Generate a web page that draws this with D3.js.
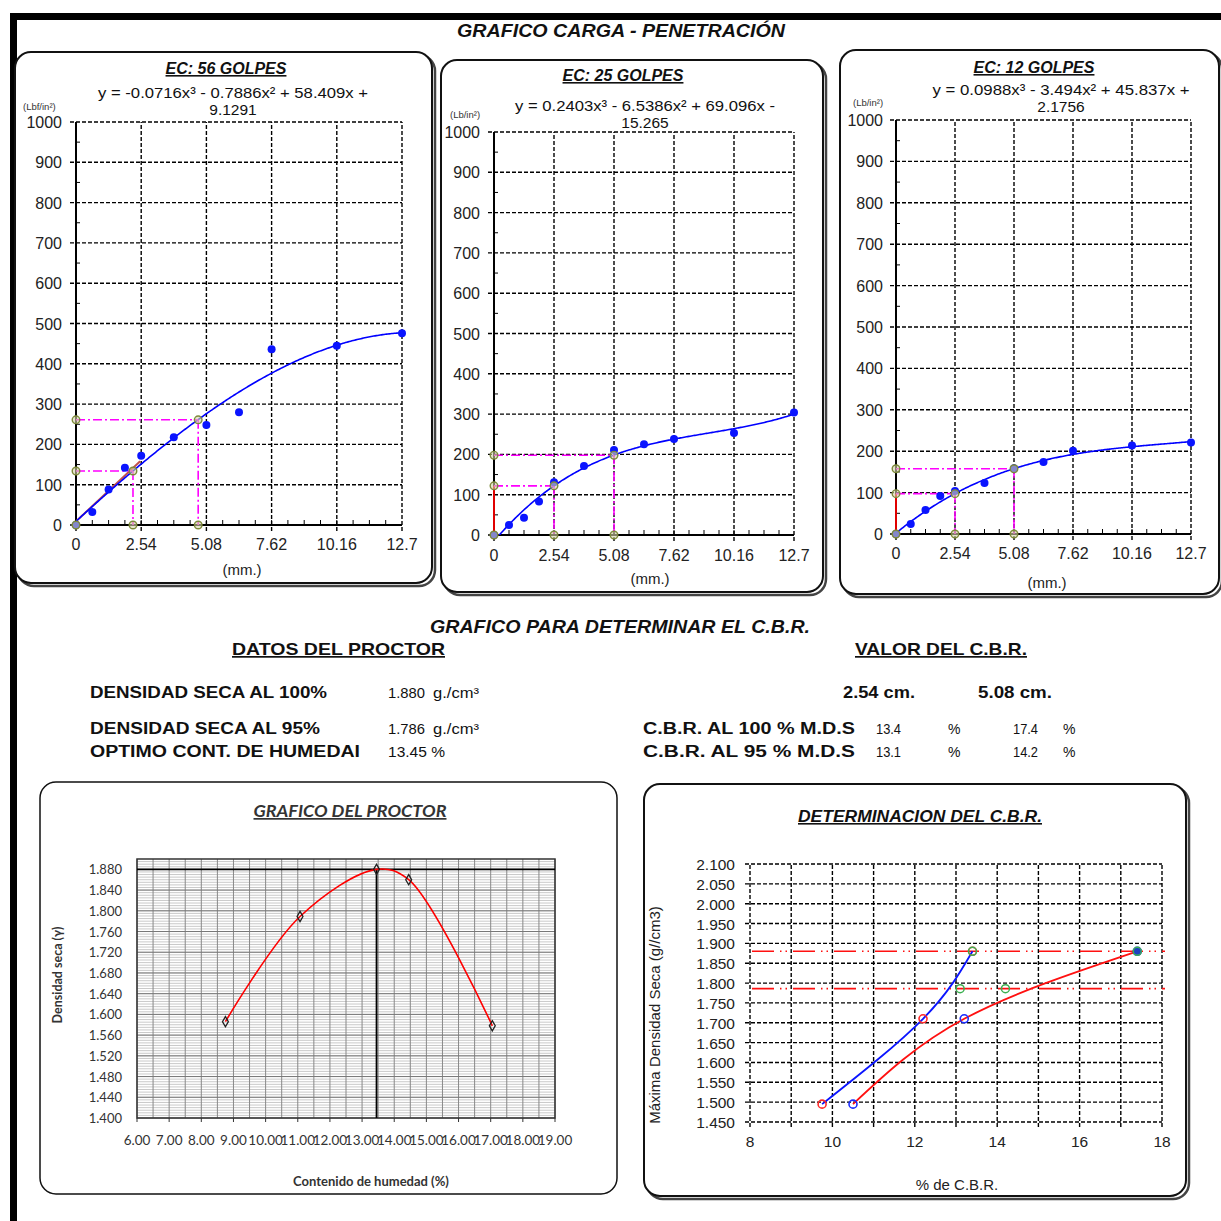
<!DOCTYPE html>
<html><head><meta charset="utf-8">
<script src="https://cdn.jsdelivr.net/npm/d3@7"></script>
<style>body{margin:0;background:#fff}svg{display:block}</style>
</head><body>
<svg id="sheet" width="1221" height="1221"></svg>
<script>
// ---------- Penetration tests (load in lb/in² vs penetration in mm) ----------
const penetration = [0, 0.635, 1.27, 1.905, 2.54, 3.81, 5.08, 6.35, 7.62, 10.16, 12.7];
const load56 = [0, 32, 88, 142, 172, 218, 248, 280, 436, 445, 476];
const load25 = [0, 25, 43, 83, 131, 171, 211, 225, 238, 253, 304];
const load12 = [0, 24, 58, 92, 104, 123, 159, 174, 201, 214, 221];
// cubic trend-line coefficients, constant term first
const fit56 = [9.1291, 58.409, -0.7886, -0.0716];
const fit25 = [-15.265, 69.096, -6.5386, 0.2403];
const fit12 = [2.1756, 45.837, -3.494, 0.0988];
// readings taken off each curve for the CBR
const read56Pen = [2.22, 4.76], read56Load = [134, 261];
const read25Pen = [2.54, 5.08], read25Load = [122, 198];
const read12Pen = [2.54, 5.08], read12Load = [97.5, 157.5];
// initial tangent of the 56-blow curve
const tangent56Pen = [0, 2.5], tangent56Load = [9, 158];
const penTicks = [0, 2.54, 5.08, 7.62, 10.16, 12.7];
const penTickLabels = ["0", "2.54", "5.08", "7.62", "10.16", "12.7"];
const loadTicks = [0, 100, 200, 300, 400, 500, 600, 700, 800, 900, 1000];

// ---------- Proctor ----------
const moisture = [8.75, 11.07, 13.45, 14.45, 17.05];
const dryDensity = [1.586, 1.789, 1.880, 1.860, 1.578];
const optimumMoisture = 13.45;
const maxDryDensity = 1.880;
const dryDensity95 = 1.786;
const moistureTicks = [6, 7, 8, 9, 10, 11, 12, 13, 14, 15, 16, 17, 18, 19];
const densityTicks = [1.40, 1.44, 1.48, 1.52, 1.56, 1.60, 1.64, 1.68, 1.72, 1.76, 1.80, 1.84, 1.88];

// ---------- CBR vs dry density ----------
const cbrDensity = [1.495, 1.71, 1.88];
const cbr254 = [9.75, 12.2, 13.4];
const cbr508 = [10.5, 13.2, 17.4];
const cbrAt95 = [13.1, 14.2];
const cbrTicks = [8, 10, 12, 14, 16, 18];
const cbrDensityTicks = [1.45, 1.50, 1.55, 1.60, 1.65, 1.70, 1.75, 1.80, 1.85, 1.90, 1.95, 2.00, 2.05, 2.10];

const svg = d3.select("#sheet");
const ARIAL = "Liberation Sans, Arial, sans-serif";
const NARROW = "Liberation Sans Narrow, Liberation Sans, Arial, sans-serif";
const CAL = "Lato, Open Sans, sans-serif";
const GRID_DASH = "4,2";

function txt(g, x, y, s, o = {}) {
  const t = g.append("text").attr("x", x).attr("y", y).text(s)
    .attr("font-family", o.ff || ARIAL).attr("font-size", o.fs || 15)
    .attr("fill", o.fill || "#111")
    .attr("text-anchor", o.anchor || "start");
  if (o.bold) t.attr("font-weight", "bold");
  if (o.italic) t.attr("font-style", "italic");
  if (o.underline) t.attr("text-decoration", "underline");
  if (o.len) t.attr("textLength", o.len).attr("lengthAdjust", "spacingAndGlyphs");
  return t;
}

function panel(x, y, w, h, r, heavy) {
  if (heavy) {
    svg.append("rect").attr("x", x + 3).attr("y", y + 3).attr("width", w).attr("height", h)
      .attr("rx", r).attr("fill", "none").attr("stroke", "#444").attr("stroke-width", 2.5);
  }
  svg.append("rect").attr("x", x).attr("y", y).attr("width", w).attr("height", h)
    .attr("rx", r).attr("fill", "#fff").attr("stroke", "#111").attr("stroke-width", heavy ? 2 : 1.5);
}

// sheet frame
svg.append("rect").attr("x", 10).attr("y", 13).attr("width", 1211).attr("height", 7).attr("fill", "#000");
svg.append("rect").attr("x", 10).attr("y", 13).attr("width", 7).attr("height", 1208).attr("fill", "#000");

txt(svg, 621, 37, "GRAFICO CARGA - PENETRACIÓN", {ff: NARROW, fs: 19, bold: true, italic: true, anchor: "middle", len: 328});

// ---------- load-penetration chart ----------
function penChart(c) {
  panel(c.px, c.py, c.pw, c.ph, 16, true);
  const g = svg.append("g");
  const x = d3.scaleLinear().domain([0, 12.7]).range([c.x0, c.x1]);
  const y = d3.scaleLinear().domain([0, 1000]).range([c.y0, c.y1]);
  const clipId = "clip" + c.id;
  g.append("clipPath").attr("id", clipId).append("rect")
    .attr("x", c.x0).attr("y", c.y1).attr("width", c.x1 - c.x0).attr("height", c.y0 - c.y1);

  // dashed grid
  loadTicks.forEach(v => g.append("line").attr("x1", c.x0 - 6).attr("x2", c.x1).attr("y1", y(v)).attr("y2", y(v))
    .attr("stroke", "#000").attr("stroke-width", 1.4).attr("stroke-dasharray", v === 0 ? null : GRID_DASH));
  penTicks.forEach(v => g.append("line").attr("x1", x(v)).attr("x2", x(v)).attr("y1", c.y0 + 6).attr("y2", c.y1)
    .attr("stroke", "#000").attr("stroke-width", 1.4).attr("stroke-dasharray", v === 0 ? null : GRID_DASH));
  // axes
  g.append("line").attr("x1", x(0)).attr("x2", x(0)).attr("y1", c.y0).attr("y2", c.y1).attr("stroke", "#000").attr("stroke-width", 2);
  g.append("line").attr("x1", x(0)).attr("x2", x(12.7)).attr("y1", c.y0).attr("y2", c.y0).attr("stroke", "#000").attr("stroke-width", 2);
  // minor ticks
  d3.range(50, 1000, 100).forEach(v => g.append("line").attr("x1", c.x0).attr("x2", c.x0 + 4)
    .attr("y1", y(v)).attr("y2", y(v)).attr("stroke", "#000"));
  d3.range(1, 20).forEach(i => g.append("line").attr("x1", x(i * 0.635)).attr("x2", x(i * 0.635))
    .attr("y1", c.y0).attr("y2", c.y0 - 5).attr("stroke", "#000"));

  // tick labels
  loadTicks.forEach(v => txt(g, c.ylab, y(v) + 6, String(v), {fs: 16, anchor: "end", fill: "#222"}));
  penTicks.forEach((v, i) => txt(g, x(v), c.xlabY, penTickLabels[i], {fs: 16, anchor: "middle", fill: "#222"}));
  txt(g, c.mmX, c.mmY, "(mm.)", {fs: 15, anchor: "middle", fill: "#222"});
  txt(g, c.unitX, c.unitY, c.unit, {fs: 9.5, fill: "#333"});

  // titles
  txt(g, c.titleX, c.titleY, c.title, {fs: 16, bold: true, italic: true, underline: true, anchor: "middle"});
  txt(g, c.eqX, c.eqY, c.eq[0], {fs: 15.5, anchor: "middle", len: c.eqLen});
  txt(g, c.eqX, c.eqY + 17, c.eq[1], {fs: 15.5, anchor: "middle"});

  const plot = g.append("g").attr("clip-path", `url(#${clipId})`);
  // tangent / seating correction line on the load axis
  if (c.tanPen) {
    plot.append("line").attr("x1", x(c.tanPen[0])).attr("y1", y(c.tanLoad[0]))
      .attr("x2", x(c.tanPen[1])).attr("y2", y(c.tanLoad[1])).attr("stroke", "#c0504d").attr("stroke-width", 2);
  }
  if (c.redAxis) {
    g.append("line").attr("x1", x(0)).attr("x2", x(0)).attr("y1", y(0)).attr("y2", y(c.readLoad[0]))
      .attr("stroke", "#e00000").attr("stroke-width", 2);
  }
  // read-off guides
  c.readPen.forEach((p, i) => {
    const L = c.readLoad[i];
    g.append("line").attr("x1", x(0)).attr("x2", x(p)).attr("y1", y(L)).attr("y2", y(L))
      .attr("stroke", "#ff00ff").attr("stroke-width", 1.6).attr("stroke-dasharray", "9,3,2,3");
    g.append("line").attr("x1", x(p)).attr("x2", x(p)).attr("y1", y(L)).attr("y2", y(0))
      .attr("stroke", "#ff00ff").attr("stroke-width", 1.6).attr("stroke-dasharray", "9,3,2,3");
  });
  // trend line from the displayed coefficients
  const poly = v => c.fit[0] + c.fit[1] * v + c.fit[2] * v * v + c.fit[3] * v * v * v;
  const xs = d3.range(0, 12.7001, 0.05);
  plot.append("path").datum(xs)
    .attr("d", d3.line().x(v => x(v)).y(v => y(poly(v))))
    .attr("fill", "none").attr("stroke", "#0000ff").attr("stroke-width", 1.6);
  // measured points
  g.selectAll(null).data(penetration).join("circle")
    .attr("cx", d => x(d)).attr("cy", (d, i) => y(c.load[i])).attr("r", 4)
    .attr("fill", "#0a14ff");
  // read-off markers
  const marks = [];
  c.readPen.forEach((p, i) => { marks.push([0, c.readLoad[i]], [p, 0], [p, c.readLoad[i]]); });
  marks.push([0, 0]);
  g.selectAll(null).data(marks).join("circle")
    .attr("cx", d => x(d[0])).attr("cy", d => y(d[1])).attr("r", 3.8)
    .attr("fill", "#d6d3a8").attr("fill-opacity", 0.6).attr("stroke", "#7d8a3a").attr("stroke-width", 1.4);
}

penChart({id: 1, px: 15, py: 52, pw: 417, ph: 531, x0: 76, x1: 402, y0: 525, y1: 122,
  ylab: 62, xlabY: 550, mmX: 242, mmY: 575, unit: "(Lbf/in²)", unitX: 23, unitY: 110,
  title: "EC: 56 GOLPES", titleX: 226, titleY: 74,
  eq: ["y = -0.0716x³ - 0.7886x² + 58.409x +", "9.1291"], eqX: 233, eqY: 98, eqLen: 270,
  load: load56, fit: fit56, readPen: read56Pen, readLoad: read56Load,
  tanPen: tangent56Pen, tanLoad: tangent56Load, redAxis: false});

penChart({id: 2, px: 441, py: 60, pw: 382, ph: 532, x0: 494, x1: 794, y0: 535, y1: 132,
  ylab: 480, xlabY: 561, mmX: 650, mmY: 584, unit: "(Lb/in²)", unitX: 450, unitY: 118,
  title: "EC: 25 GOLPES", titleX: 623, titleY: 81,
  eq: ["y = 0.2403x³ - 6.5386x² + 69.096x -", "15.265"], eqX: 645, eqY: 111, eqLen: 260,
  load: load25, fit: fit25, readPen: read25Pen, readLoad: read25Load, redAxis: true});

penChart({id: 3, px: 840, py: 50, pw: 379, ph: 544, x0: 896, x1: 1191, y0: 534, y1: 120,
  ylab: 883, xlabY: 559, mmX: 1047, mmY: 588, unit: "(Lb/in²)", unitX: 853, unitY: 106,
  title: "EC: 12  GOLPES", titleX: 1034, titleY: 73,
  eq: ["y = 0.0988x³ - 3.494x² + 45.837x +", "2.1756"], eqX: 1061, eqY: 95, eqLen: 257,
  load: load12, fit: fit12, readPen: read12Pen, readLoad: read12Load, redAxis: true});

// ---------- summary block ----------
txt(svg, 620, 633, "GRAFICO PARA DETERMINAR EL C.B.R.", {ff: NARROW, fs: 18, bold: true, italic: true, anchor: "middle", len: 380});
txt(svg, 232, 655, "DATOS DEL PROCTOR", {fs: 17, bold: true, underline: true, len: 213});
txt(svg, 855, 655, "VALOR DEL C.B.R.", {fs: 17, bold: true, underline: true, len: 172});

txt(svg, 90, 698, "DENSIDAD SECA AL 100%", {fs: 16, bold: true, len: 237});
txt(svg, 90, 734, "DENSIDAD SECA AL 95%", {fs: 16, bold: true, len: 230});
txt(svg, 90, 757, "OPTIMO CONT. DE HUMEDAI", {fs: 16, bold: true, len: 270});
txt(svg, 388, 698, maxDryDensity.toFixed(3), {ff: NARROW, fs: 15, len: 37});
txt(svg, 433, 698, "g./cm³", {ff: NARROW, fs: 15, len: 46});
txt(svg, 388, 734, dryDensity95.toFixed(3), {ff: NARROW, fs: 15, len: 37});
txt(svg, 433, 734, "g./cm³", {ff: NARROW, fs: 15, len: 46});
txt(svg, 388, 757, optimumMoisture.toFixed(2) + " %", {ff: NARROW, fs: 15, len: 57});

txt(svg, 843, 698, "2.54 cm.", {fs: 16, bold: true, len: 72});
txt(svg, 978, 698, "5.08 cm.", {fs: 16, bold: true, len: 74});
txt(svg, 643, 734, "C.B.R.  AL  100 % M.D.S", {fs: 16, bold: true, len: 212});
txt(svg, 643, 757, "C.B.R.  AL  95 % M.D.S", {fs: 16, bold: true, len: 212});
[[cbr254[2], cbr508[2], 734], [cbrAt95[0], cbrAt95[1], 757]].forEach(r => {
  txt(svg, 876, r[2], r[0].toFixed(1), {ff: NARROW, fs: 15, len: 25});
  txt(svg, 948, r[2], "%", {ff: NARROW, fs: 14});
  txt(svg, 1013, r[2], r[1].toFixed(1), {ff: NARROW, fs: 15, len: 25});
  txt(svg, 1063, r[2], "%", {ff: NARROW, fs: 14});
});

// ---------- Proctor chart ----------
(function () {
  panel(40, 782, 577, 412, 16, false);
  const g = svg.append("g");
  const x = d3.scaleLinear().domain([6, 19]).range([137, 555]);
  const y = d3.scaleLinear().domain([1.4, 1.9]).range([1118, 859]);
  d3.range(1.405, 1.9, 0.005).forEach(v => g.append("line").attr("x1", x(6)).attr("x2", x(19))
    .attr("y1", y(v)).attr("y2", y(v)).attr("stroke", "#bbb").attr("stroke-width", 0.8));
  d3.range(6, 19.01, 0.5).forEach(v => g.append("line").attr("x1", x(v)).attr("x2", x(v))
    .attr("y1", y(1.4)).attr("y2", y(1.9)).attr("stroke", "#888").attr("stroke-width", 1));
  densityTicks.forEach(v => g.append("line").attr("x1", x(6)).attr("x2", x(19))
    .attr("y1", y(v)).attr("y2", y(v)).attr("stroke", "#777").attr("stroke-width", 1));
  g.append("rect").attr("x", x(6)).attr("y", y(1.9)).attr("width", x(19) - x(6)).attr("height", y(1.4) - y(1.9))
    .attr("fill", "none").attr("stroke", "#333").attr("stroke-width", 1.5);
  moistureTicks.forEach(v => g.append("line").attr("x1", x(v)).attr("x2", x(v)).attr("y1", y(1.4)).attr("y2", y(1.4) + 4).attr("stroke", "#333"));
  // optimum lines
  g.append("line").attr("x1", x(6)).attr("x2", x(19)).attr("y1", y(maxDryDensity)).attr("y2", y(maxDryDensity))
    .attr("stroke", "#000").attr("stroke-width", 1.8);
  g.append("line").attr("x1", x(optimumMoisture)).attr("x2", x(optimumMoisture)).attr("y1", y(1.4)).attr("y2", y(maxDryDensity))
    .attr("stroke", "#000").attr("stroke-width", 1.8);
  // compaction curve
  const pts = moisture.map((m, i) => [m, dryDensity[i]]);
  g.append("path").datum(pts).attr("d", d3.line().x(d => x(d[0])).y(d => y(d[1])).curve(d3.curveCatmullRom.alpha(0.5)))
    .attr("fill", "none").attr("stroke", "#ff0000").attr("stroke-width", 1.6);
  g.selectAll(null).data(pts).join("path")
    .attr("d", d3.symbol(d3.symbolDiamond, 30))
    .attr("transform", d => `translate(${x(d[0])},${y(d[1])})`)
    .attr("fill", "none").attr("stroke", "#222").attr("stroke-width", 1.3);
  densityTicks.forEach(v => txt(g, 122, y(v) + 5, v.toFixed(3), {ff: CAL, fs: 13, anchor: "end", fill: "#333"}));
  moistureTicks.forEach(v => txt(g, x(v), 1145, v.toFixed(2), {ff: CAL, fs: 13.5, anchor: "middle", fill: "#333"}));
  txt(g, 350, 817, "GRAFICO DEL PROCTOR", {ff: CAL, fs: 17, bold: true, italic: true, underline: true, anchor: "middle", fill: "#333", len: 193});
  txt(g, 371, 1186, "Contenido de humedad (%)", {ff: CAL, fs: 13, bold: true, anchor: "middle", fill: "#333"});
  txt(g, 0, 0, "Densidad seca (γ)", {ff: CAL, fs: 12.5, bold: true, anchor: "middle", fill: "#333"})
    .attr("transform", "translate(62,975) rotate(-90)");
})();

// ---------- CBR determination chart ----------
(function () {
  panel(644, 784, 542, 412, 16, true);
  const g = svg.append("g");
  const x = d3.scaleLinear().domain([8, 18]).range([750, 1162]);
  const y = d3.scaleLinear().domain([1.45, 2.1]).range([1122, 864]);
  cbrDensityTicks.forEach(v => g.append("line").attr("x1", x(8) - 5).attr("x2", x(18))
    .attr("y1", y(v)).attr("y2", y(v)).attr("stroke", "#000").attr("stroke-width", 1.4).attr("stroke-dasharray", GRID_DASH));
  d3.range(8, 18.01, 1).forEach(v => g.append("line").attr("x1", x(v)).attr("x2", x(v))
    .attr("y1", y(1.45) + 5).attr("y2", y(2.1)).attr("stroke", "#000").attr("stroke-width", 1.4).attr("stroke-dasharray", GRID_DASH));
  // density levels
  [maxDryDensity, dryDensity95].forEach(v => g.append("line").attr("x1", x(8) + 2).attr("x2", x(18) + 3)
    .attr("y1", y(v)).attr("y2", y(v)).attr("stroke", "#ff1010").attr("stroke-width", 1.6)
    .attr("stroke-dasharray", "22,6,1.5,4,1.5,6"));
  const line = d3.line().x(d => x(d[0])).y(d => y(d[1])).curve(d3.curveNatural);
  const s254 = cbr254.map((c, i) => [c, cbrDensity[i]]);
  const s508 = cbr508.map((c, i) => [c, cbrDensity[i]]);
  g.append("path").datum(s254).attr("d", line).attr("fill", "none").attr("stroke", "#0a14ff").attr("stroke-width", 1.8);
  g.append("path").datum(s508).attr("d", line).attr("fill", "none").attr("stroke", "#ff1010").attr("stroke-width", 1.8);
  g.selectAll(null).data(s254).join("circle").attr("cx", d => x(d[0])).attr("cy", d => y(d[1])).attr("r", 4)
    .attr("fill", "none").attr("stroke", "#ff2a2a").attr("stroke-width", 1.6);
  g.selectAll(null).data(s508).join("circle").attr("cx", d => x(d[0])).attr("cy", d => y(d[1])).attr("r", 4)
    .attr("fill", (d, i) => i === 2 ? "#2040c0" : "none").attr("stroke", "#1a2cff").attr("stroke-width", 1.6);
  const reads = [[cbr254[2], maxDryDensity], [cbr508[2], maxDryDensity], [cbrAt95[0], dryDensity95], [cbrAt95[1], dryDensity95]];
  g.selectAll(null).data(reads).join("circle").attr("cx", d => x(d[0])).attr("cy", d => y(d[1])).attr("r", 4)
    .attr("fill", "none").attr("stroke", "#3cb050").attr("stroke-width", 1.5);
  cbrDensityTicks.forEach(v => txt(g, 735, y(v) + 6, v.toFixed(3), {fs: 15.5, anchor: "end", fill: "#222"}));
  cbrTicks.forEach(v => txt(g, x(v), 1147, String(v), {fs: 15.5, anchor: "middle", fill: "#222"}));
  txt(g, 920, 822, "DETERMINACION DEL C.B.R.", {fs: 16, bold: true, italic: true, underline: true, anchor: "middle", len: 244});
  txt(g, 957, 1190, "% de C.B.R.", {fs: 15, anchor: "middle", fill: "#222"});
  txt(g, 0, 0, "Máxima Densidad Seca (g//cm3)", {fs: 15, anchor: "middle", fill: "#222"})
    .attr("transform", "translate(660,1015) rotate(-90)");
})();
</script>
</body></html>
